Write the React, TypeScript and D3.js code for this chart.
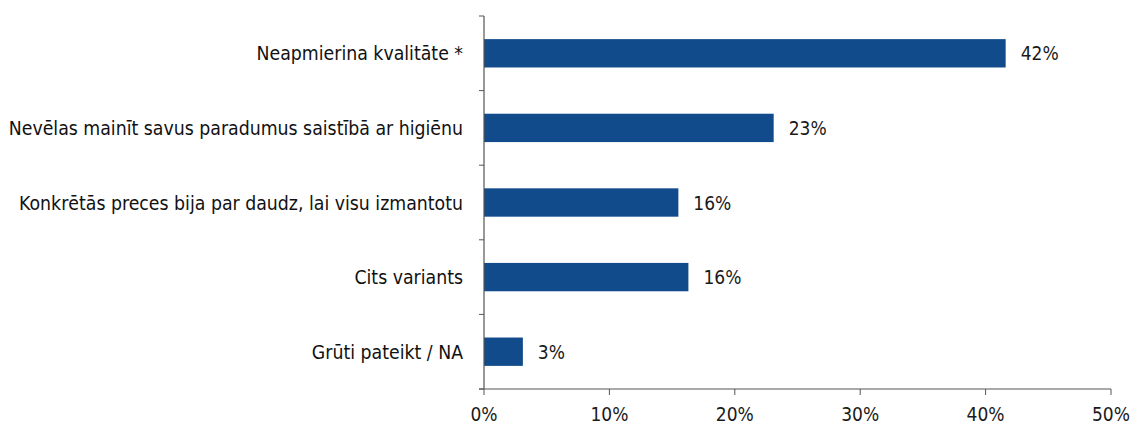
import React, { useRef, useEffect } from 'react';
import * as d3 from 'd3';

const categories = [
  'Neapmierina kvalitāte *',
  'Nevēlas mainīt savus paradumus saistībā ar higiēnu',
  'Konkrētās preces bija par daudz, lai visu izmantotu',
  'Cits variants',
  'Grūti pateikt / NA',
];
const values = [41.6, 23.1, 15.5, 16.3, 3.1];
const valueLabels = ['42%', '23%', '16%', '16%', '3%'];
const xTicks = [0, 10, 20, 30, 40, 50];

const W = 1133;
const H = 441;

export default function App() {
  const ref = useRef<SVGSVGElement>(null);

  useEffect(() => {
    if (!ref.current) return;
    const svg = d3.select(ref.current);
    svg.selectAll('*').remove();

    const left = 484, right = 1111, top = 16, bottom = 389;
    const font = '"Liberation Sans Narrow", "DejaVu Sans Condensed", sans-serif';

    const x = d3.scaleLinear().domain([0, 50]).range([left, right]);
    const y = d3.scaleBand<string>().domain(categories).range([top, bottom]).paddingInner(0.62).paddingOuter(0.31);

    // bars
    svg.append('g')
      .selectAll('rect')
      .data(categories)
      .join('rect')
      .attr('x', x(0))
      .attr('y', d => y(d)!)
      .attr('width', (d, i) => x(values[i]) - x(0))
      .attr('height', y.bandwidth())
      .attr('fill', '#124b8c');

    // value labels
    svg.append('g')
      .selectAll('text')
      .data(categories)
      .join('text')
      .attr('x', (d, i) => x(values[i]) + 15)
      .attr('y', d => y(d)! + y.bandwidth() / 2 + 7)
      .style('font', `19px ${font}`)
      .attr('fill', '#1a1a1a')
      .text((d, i) => valueLabels[i]);

    // category labels
    svg.append('g')
      .selectAll('text')
      .data(categories)
      .join('text')
      .attr('x', left - 21)
      .attr('y', d => y(d)! + y.bandwidth() / 2 + 7)
      .attr('text-anchor', 'end')
      .style('font', `19.3px ${font}`)
      .attr('fill', '#111')
      .text(d => d);

    const axisColor = '#555';
    // y axis line + ticks at band boundaries
    svg.append('line')
      .attr('x1', left).attr('x2', left).attr('y1', top).attr('y2', bottom)
      .attr('stroke', axisColor).attr('stroke-width', 1.2);
    const step = y.step();
    const bounds = d3.range(categories.length + 1).map(i => top + i * step);
    svg.append('g')
      .selectAll('line')
      .data(bounds)
      .join('line')
      .attr('x1', left - 5).attr('x2', left)
      .attr('y1', d => d).attr('y2', d => d)
      .attr('stroke', axisColor);

    // x axis
    svg.append('line')
      .attr('x1', left - 5).attr('x2', right).attr('y1', bottom).attr('y2', bottom)
      .attr('stroke', axisColor).attr('stroke-width', 1.2);
    svg.append('g')
      .selectAll('line')
      .data(xTicks)
      .join('line')
      .attr('x1', d => x(d)).attr('x2', d => x(d))
      .attr('y1', bottom).attr('y2', bottom + 6)
      .attr('stroke', axisColor);
    svg.append('g')
      .selectAll('text')
      .data(xTicks)
      .join('text')
      .attr('x', d => x(d))
      .attr('y', bottom + 32)
      .attr('text-anchor', 'middle')
      .style('font', `19px ${font}`)
      .attr('fill', '#1a1a1a')
      .text(d => `${d}%`);
  }, []);

  return (
    <svg
      ref={ref}
      width={W}
      height={H}
      style={{ position: 'absolute', left: 0, top: 0, background: '#fff' }}
    />
  );
}
